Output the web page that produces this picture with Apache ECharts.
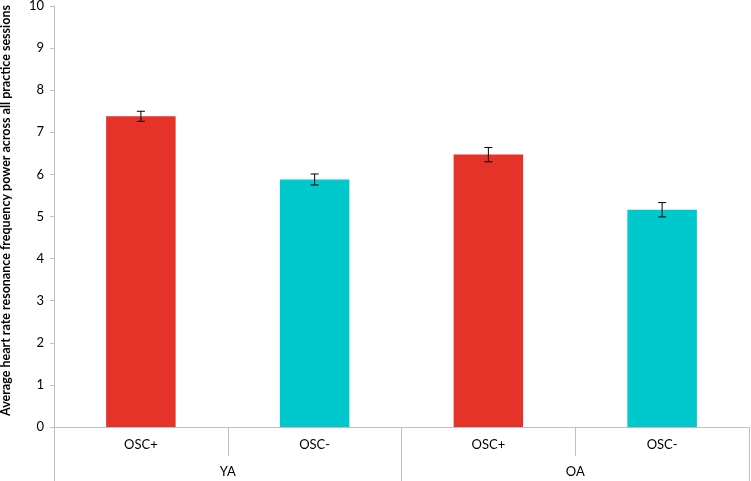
<!DOCTYPE html>
<html><head><meta charset="utf-8">
<script src="https://cdn.jsdelivr.net/npm/echarts@6/dist/echarts.min.js"></script>
<style>html,body{margin:0;padding:0;background:#fff}#c{width:751px;height:481px}</style>
</head><body><div id="c"></div>
<script>
const categories = ['OSC+', 'OSC-', 'OSC+', 'OSC-'];
const groups = ['YA', 'OA'];
const values = [7.38, 5.88, 6.47, 5.16];
const errors = [0.12, 0.13, 0.17, 0.17];
const yTicks = [0, 1, 2, 3, 4, 5, 6, 7, 8, 9, 10];
const yTitle = 'Average heart rate resonance frequency power across all practice sessions';

const RED = '#E6332A', CYAN = '#00C9CD';
const FONT = 'Lato, "Open Sans", sans-serif';
const chart = echarts.init(document.getElementById('c'));
chart.setOption({
  animation: false,
  grid: { left: 54, right: 2, top: 6, bottom: 54, containLabel: false, outerBoundsMode: 'none' },
  xAxis: [
    { type: 'category', data: categories, position: 'bottom',
      axisLine: { lineStyle: { color: '#BFBFBF' } },
      axisTick: { show: true, interval: 0, length: 29, lineStyle: { color: '#BFBFBF' } },
      axisLabel: { interval: 0, color: '#000', fontSize: 13, fontFamily: FONT, margin: 11 } },
    { type: 'category', data: groups, position: 'bottom',
      axisLine: { lineStyle: { color: '#BFBFBF' } },
      axisTick: { show: true, interval: 0, length: 54, lineStyle: { color: '#BFBFBF' } },
      axisLabel: { interval: 0, color: '#000', fontSize: 13, fontFamily: FONT, margin: 38 } }
  ],
  yAxis: {
    type: 'value', min: yTicks[0], max: yTicks[yTicks.length - 1], interval: 1,
    name: yTitle, nameLocation: 'middle', nameGap: 42, nameRotate: 90,
    nameTextStyle: { color: '#000', fontWeight: 'bold', fontSize: 12.5, fontFamily: FONT, padding: [0, 0, 0, 12] },
    axisLine: { show: true, lineStyle: { color: '#BFBFBF' } },
    axisTick: { show: true, length: 4, lineStyle: { color: '#BFBFBF' } },
    axisLabel: { color: '#000', fontSize: 13, fontFamily: FONT, margin: 10 },
    splitLine: { show: false }
  },
  series: [
    { type: 'bar', xAxisIndex: 0, data: values, barWidth: '40%',
      itemStyle: { color: p => categories[p.dataIndex] === 'OSC+' ? RED : CYAN } },
    { type: 'custom', xAxisIndex: 0, z: 10,
      data: values.map((v, i) => [i, v - errors[i], v + errors[i]]),
      renderItem: (params, api) => {
        const lo = api.coord([api.value(0), api.value(1)]);
        const hi = api.coord([api.value(0), api.value(2)]);
        const w = 4;
        const st = { stroke: '#000', lineWidth: 1 };
        return { type: 'group', children: [
          { type: 'line', shape: { x1: hi[0], y1: hi[1], x2: lo[0], y2: lo[1] }, style: st },
          { type: 'line', shape: { x1: hi[0] - w, y1: hi[1], x2: hi[0] + w, y2: hi[1] }, style: st },
          { type: 'line', shape: { x1: lo[0] - w, y1: lo[1], x2: lo[0] + w, y2: lo[1] }, style: st }
        ]};
      } }
  ]
});
</script></body></html>
